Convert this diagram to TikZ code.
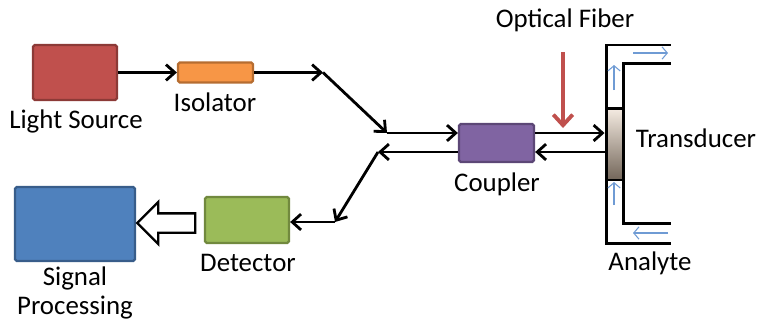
\documentclass[tikz,border=0pt]{standalone}
\usepackage{fontspec}
\setmainfont{Carlito}
\usetikzlibrary{arrows.meta,shapes.arrows}

\definecolor{srcred}{HTML}{C0504D}
\definecolor{srcredd}{HTML}{8C3A37}
\definecolor{isoorange}{HTML}{F79646}
\definecolor{isoorangedd}{HTML}{B66D31}
\definecolor{cplpurple}{HTML}{8064A2}
\definecolor{cplpurpledd}{HTML}{5C4776}
\definecolor{detgreen}{HTML}{9BBB59}
\definecolor{detgreendd}{HTML}{71893E}
\definecolor{sigblue}{HTML}{4F81BD}
\definecolor{sigbluedd}{HTML}{385D8A}
\definecolor{flowblue}{HTML}{6F9BD4}

\begin{document}
\begin{tikzpicture}[x=0.02cm,y=-0.02cm]
        % Define styles
        \tikzset{
            box/.style={rectangle, draw, line width=1.3pt, rounded corners=1pt, inner sep=0pt},
            lbl/.style={font=\fontsize{15.3}{16.5}\selectfont, inner sep=0pt, align=center},
            arrow/.style={-{Straight Barb[length=5pt,width=9pt]}, line width=1.6pt},
            flow/.style={-{Straight Barb[length=3pt,width=7pt]}, line width=0.6pt, color=flowblue},
            wall/.style={line width=1.7pt, line cap=rect}
        }
        \useasboundingbox (0,0) rectangle (759,322);

        % Nodes
        \node[box, fill=srcred, draw=srcredd, minimum width=1.68cm, minimum height=1.1cm] (source) at (75,72.5) {};
        \node[box, fill=isoorange, draw=isoorangedd, minimum width=1.5cm, minimum height=0.4cm] (iso) at (215.5,72.5) {};
        \node[box, fill=cplpurple, draw=cplpurpledd, minimum width=1.5cm, minimum height=0.76cm] (cpl) at (496.5,143) {};
        \node[box, fill=detgreen, draw=detgreendd, minimum width=1.68cm, minimum height=0.92cm] (det) at (247,220) {};
        \node[box, fill=sigblue, draw=sigbluedd, minimum width=2.4cm, minimum height=1.48cm] (sig) at (75,224) {};

        \node[lbl] (source_label) at (76,121) {Light Source};
        \node[lbl] (iso_label) at (215,102) {Isolator};
        \node[lbl] (cpl_label) at (497,184) {Coupler};
        \node[lbl] (det_label) at (248,263) {Detector};
        \node[lbl] (sig_label) at (75,293) {Signal\\Processing};
        \node[lbl] (fiber_label) at (565,20) {Optical Fiber};
        \node[lbl] (td_label) at (696,138) {Transducer};
        \node[lbl] (analyte_label) at (650,263) {Analyte};

        % Bends of the fiber
        \coordinate (kneeA) at (323,72.5);
        \coordinate (kneeB) at (387,133);
        \coordinate (kneeC) at (378,152);
        \coordinate (kneeD) at (335,222);
        \coordinate (fiber_top) at (563,52);
        \coordinate (fiber_tip) at (563,128);

        % Flow cell walls
        \draw[wall] (669,45) -- (606,45) -- (606,243) -- (669,243);
        \draw[wall] (669,63) -- (623,63) -- (623,108);
        \draw[wall] (623,180) -- (623,223) -- (669,223);

        % Transducer
        \node[rectangle, draw, line width=1.7pt, top color=white!85!brown, bottom color=black!50!brown!40!gray,
              minimum width=0.34cm, minimum height=1.44cm, inner sep=0pt] (td) at (614.5,144) {};

        % Arrows
        \draw[arrow] (source.east) -- (source.east -| iso.west);
        \draw[arrow] (iso.east) -- (kneeA);
        \draw[arrow] (kneeA) -- (kneeB);
        \draw[arrow] (kneeB) -- (kneeB -| cpl.west);
        \draw[arrow] (cpl.east |- kneeB) -- (kneeB -| td.west);
        \draw[arrow] (kneeC -| td.west) -- (kneeC -| cpl.east);
        \draw[arrow] (kneeC -| cpl.west) -- (kneeC);
        \draw[arrow] (kneeC) -- (kneeD);
        \draw[arrow] (kneeD) -- (det.east |- kneeD);
        \draw[-{Straight Barb[length=6pt,width=11pt]}, line width=2.2pt, srcred] (fiber_top) -- (fiber_tip);

        % Analyte flow
        \draw[flow] (614,90) -- (614,65);
        \draw[flow] (614,205) -- (614,182);
        \draw[flow] (633,53) -- (668,53);
        \draw[flow] (668,233) -- (633,233);

        % Output to signal processing
        \node[single arrow, draw, line width=1.3pt, fill=white, shape border rotate=180,
              minimum height=1.16cm, inner sep=0.17cm, single arrow head extend=0.23cm] (out) at (171,223) {};
    \end{tikzpicture}
\end{document}
